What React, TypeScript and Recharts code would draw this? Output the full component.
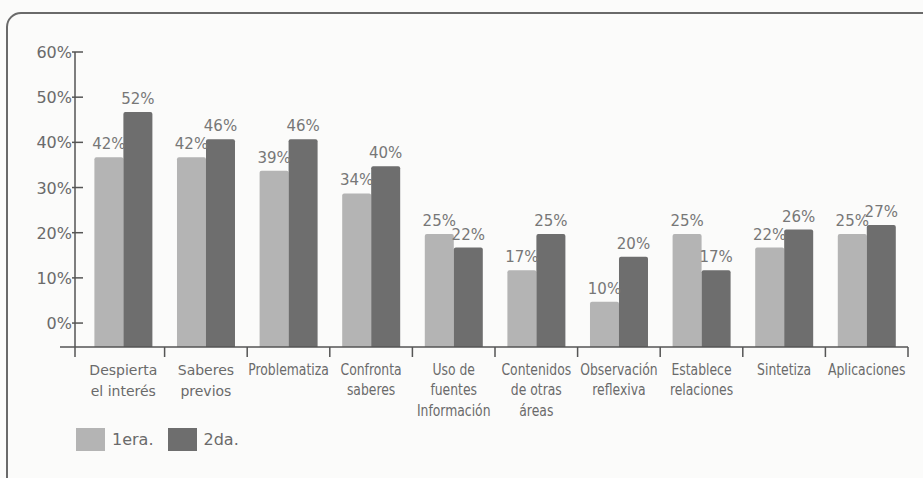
import { BarChart, Bar, XAxis, YAxis, Legend, LabelList } from "recharts";

const categories = [
	"Despierta\nel interés",
	"Saberes\nprevios",
	"Problematiza",
	"Confronta\nsaberes",
	"Uso de\nfuentes\nInformación",
	"Contenidos\nde otras\náreas",
	"Observación\nreflexiva",
	"Establece\nrelaciones",
	"Sintetiza",
	"Aplicaciones",
];
const primera = [42, 42, 39, 34, 25, 17, 10, 25, 22, 25];
const segunda = [52, 46, 46, 40, 22, 25, 20, 17, 26, 27];
const yTickLabels = [0, 10, 20, 30, 40, 50, 60];

// the printed y ticks sit ~5.3 points above the real bar baseline
const Y_SHIFT = 5.3;

const data = categories.map((c, i) => ({ cat: c, a: primera[i], b: segunda[i] }));

const W = 923;
const H = 478;
const AXIS_X = 75;
const AXIS_Y = 347;
const PLOT_RIGHT = 908;
const PAD_LEFT = 7;
const HALF_BAND = (PLOT_RIGHT - AXIS_X - PAD_LEFT) / categories.length / 2;

const LIGHT = "#b4b4b4";
const DARK = "#6e6e6e";
const TEXT = "#6a6a6a";
const SANS = "'DejaVu Sans', Verdana, sans-serif";

function YTick(props: any) {
	const { y, payload } = props;
	return (
		<g>
			<line x1={AXIS_X - 3} x2={AXIS_X + 8} y1={y} y2={y} stroke="#555" strokeWidth={1.5} />
			<text
				x={AXIS_X - 3}
				y={y}
				dy={6}
				textAnchor="end"
				fontSize={16}
				fontFamily={SANS}
				fill={TEXT}
			>
				{`${Math.round(payload.value - Y_SHIFT)}%`}
			</text>
		</g>
	);
}

function XTick(props: any) {
	const { x, y, payload, index } = props;
	const lines = String(payload.value).split("\n");
	const wide = index < 2;
	return (
		<g>
			{index === 0 && (
				<>
					<line x1={AXIS_X - 15} x2={AXIS_X} y1={y} y2={y} stroke="#555" strokeWidth={1.5} />
					<line x1={AXIS_X} x2={AXIS_X} y1={y} y2={y + 10} stroke="#555" strokeWidth={1.5} />
				</>
			)}
			<line
				x1={x + HALF_BAND}
				x2={x + HALF_BAND}
				y1={y}
				y2={y + 10}
				stroke="#555"
				strokeWidth={1.5}
			/>
			<g transform={`translate(${x},0) scale(${wide ? 1 : 0.8},1)`}>
				<text textAnchor="middle" fontSize={wide ? 14 : 15.5} fontFamily={SANS} fill={TEXT}>
					{lines.map((l, i) => (
						<tspan key={i} x={0} y={y + 28 + i * 20.5}>
							{l}
						</tspan>
					))}
				</text>
			</g>
		</g>
	);
}

function LegendBox({ payload }: any) {
	return (
		<div style={{ display: "flex", alignItems: "center", fontFamily: SANS, fontSize: 16, color: TEXT }}>
			{payload.map((p: any) => (
				<div key={p.value} style={{ display: "flex", alignItems: "center", marginRight: 14 }}>
					<div style={{ width: 29, height: 23, background: p.color, marginRight: 7 }} />
					<span>{p.value}</span>
				</div>
			))}
		</div>
	);
}

export default function App() {
	return (
		<div
			style={{
				position: "absolute",
				left: 0,
				top: 0,
				width: W,
				height: H,
				overflow: "hidden",
				background: "#fbfbfa",
			}}
		>
			<div
				style={{
					position: "absolute",
					left: 6,
					top: 12,
					width: 1000,
					height: 600,
					border: "2px solid #6a6a6a",
					borderRadius: 15,
				}}
			/>
			<div style={{ position: "absolute", left: 0, top: 0 }}>
				<BarChart
					width={W}
					height={H}
					data={data}
					margin={{ top: 52, right: W - PLOT_RIGHT, bottom: 0, left: 0 }}
					barCategoryGap="15%"
					barGap={0}
				>
					<XAxis
						dataKey="cat"
						interval={0}
						padding={{ left: PAD_LEFT, right: 0 }}
						axisLine={{ stroke: "#555", strokeWidth: 1.5 }}
						tickLine={false}
						tickSize={0}
						tickMargin={0}
						tick={<XTick />}
						height={H - AXIS_Y}
					/>
					<YAxis
						width={AXIS_X}
						domain={[0, 60 + Y_SHIFT]}
						ticks={yTickLabels.map((v) => v + Y_SHIFT)}
						axisLine={{ stroke: "#555", strokeWidth: 1.5 }}
						tickLine={false}
						tick={<YTick />}
						allowDataOverflow
					/>
					<Legend
						layout="horizontal"
						verticalAlign="middle"
						align="center"
						content={<LegendBox />}
						wrapperStyle={{ left: 76, top: 428, width: "auto" }}
					/>
					<Bar dataKey="a" name="1era." fill={LIGHT} radius={[2, 2, 0, 0]} isAnimationActive={false}>
						<LabelList
							dataKey="a"
							position="top"
							offset={8}
							formatter={(v: any) => `${v}%`}
							fontSize={15}
							fontFamily={SANS}
							fill="#777"
						/>
					</Bar>
					<Bar dataKey="b" name="2da." fill={DARK} radius={[2, 2, 0, 0]} isAnimationActive={false}>
						<LabelList
							dataKey="b"
							position="top"
							offset={8}
							formatter={(v: any) => `${v}%`}
							fontSize={15}
							fontFamily={SANS}
							fill="#777"
						/>
					</Bar>
				</BarChart>
			</div>
		</div>
	);
}
